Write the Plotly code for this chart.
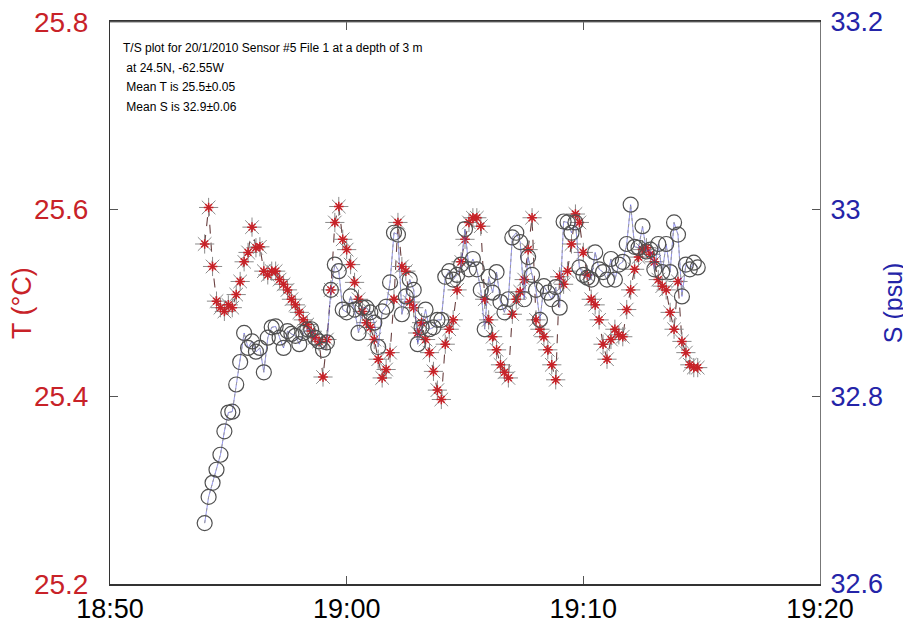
import pandas as pd
import plotly.graph_objects as go

# Sampling: sensor record every 10 s from 18:54:00
start_time = "2010-01-20 18:54:00"

temperature = [
    25.563, 25.602, 25.539, 25.502, 25.495, 25.491, 25.498, 25.495, 25.509, 25.523,
    25.544, 25.554, 25.581, 25.559, 25.560, 25.534, 25.530, 25.534, 25.534, 25.525,
    25.520, 25.514, 25.504, 25.498, 25.490, 25.482, 25.477, 25.470, 25.463, 25.459,
    25.421, 25.461, 25.514, 25.586, 25.603, 25.568, 25.557, 25.541, 25.522, 25.504,
    25.491, 25.479, 25.474, 25.461, 25.440, 25.420, 25.429, 25.447, 25.504, 25.586,
    25.539, 25.534, 25.501, 25.495, 25.468, 25.479, 25.461, 25.447, 25.427, 25.407,
    25.397, 25.456, 25.472, 25.482, 25.514, 25.544, 25.568, 25.586, 25.591, 25.591,
    25.582, 25.504, 25.482, 25.464, 25.450, 25.434, 25.426, 25.420, 25.488, 25.504,
    25.512, 25.525, 25.557, 25.591, 25.482, 25.472, 25.464, 25.450, 25.434, 25.418,
    25.528, 25.520, 25.534, 25.563, 25.595, 25.586, 25.554, 25.530, 25.504, 25.498,
    25.482, 25.456, 25.440, 25.461, 25.472, 25.466, 25.464, 25.493, 25.514, 25.536,
    25.549, 25.557, 25.559, 25.552, 25.544, 25.525, 25.518, 25.514, 25.490, 25.472,
    25.523, 25.459, 25.447, 25.434, 25.431, 25.431,
]

salinity = [
    32.665, 32.693, 32.708, 32.722, 32.738, 32.763, 32.783, 32.784, 32.813, 32.837,
    32.868, 32.852, 32.859, 32.848, 32.852, 32.826, 32.863, 32.874, 32.875, 32.863,
    32.852, 32.870, 32.867, 32.865, 32.856, 32.868, 32.872, 32.872, 32.863, 32.859,
    32.850, 32.858, 32.914, 32.941, 32.934, 32.893, 32.890, 32.907, 32.893, 32.868,
    32.895, 32.895, 32.890, 32.879, 32.853, 32.891, 32.896, 32.922, 32.975, 32.973,
    32.888, 32.907, 32.925, 32.914, 32.856, 32.874, 32.893, 32.872, 32.874, 32.882,
    32.882, 32.928, 32.934, 32.925, 32.930, 32.941, 32.979, 32.936, 32.947, 32.936,
    32.914, 32.872, 32.928, 32.911, 32.933, 32.901, 32.890, 32.904, 32.970, 32.975,
    32.965, 32.904, 32.949, 32.930, 32.914, 32.882, 32.918, 32.911, 32.904, 32.917,
    32.895, 32.987, 32.986, 32.975, 32.986, 32.938, 32.930, 32.927, 32.925, 32.954,
    32.936, 32.933, 32.925, 32.947, 32.925, 32.941, 32.944, 32.963, 33.005, 32.960,
    32.959, 32.982, 32.955, 32.957, 32.936, 32.963, 32.933, 32.963, 32.933, 32.986,
    32.973, 32.907, 32.941, 32.936, 32.943, 32.938,
]

x_tick_labels = ["18:50", "19:00", "19:10", "19:20"]
t_tick_labels = ["25.2", "25.4", "25.6", "25.8"]
s_tick_labels = ["32.6", "32.8", "33", "33.2"]

info_lines = [
    "T/S plot for 20/1/2010 Sensor #5 File 1 at a depth of 3 m",
    " at 24.5N, -62.55W",
    " Mean T is 25.5±0.05",
    " Mean S is 32.9±0.06",
]

times = pd.date_range(start_time, periods=len(temperature), freq="10s")
day = "2010-01-20 "
x_tick_vals = [day + t for t in x_tick_labels]
t_tick_vals = [float(v) for v in t_tick_labels]
s_tick_vals = [float(v) for v in s_tick_labels]

RED = "#c82228"
BLUE = "#2424a8"
FONT = "Arial, Liberation Sans, sans-serif"

fig = go.Figure()

# Salinity (right axis)
fig.add_trace(go.Scatter(
    x=times, y=salinity, yaxis="y2", mode="lines",
    line=dict(color="rgba(40,40,220,0.5)", width=1),
    hoverinfo="skip", showlegend=False))
fig.add_trace(go.Scatter(
    x=times, y=salinity, yaxis="y2", mode="lines+markers",
    line=dict(color="#9a9a9a", width=1, dash="dot"),
    marker=dict(symbol="circle-open", size=15, color="#505050",
                line=dict(width=1.2, color="#505050")),
    showlegend=False))

# Temperature (left axis)
fig.add_trace(go.Scatter(
    x=times, y=temperature, mode="lines+markers",
    line=dict(color="#6a4040", width=1.1, dash="dash"),
    marker=dict(symbol="asterisk-open", size=16, color="#8a8a8a",
                line=dict(width=1, color="#8a8a8a")),
    showlegend=False))
fig.add_trace(go.Scatter(
    x=times, y=temperature, mode="markers",
    marker=dict(symbol="asterisk-open", size=8, color=RED,
                line=dict(width=1.5, color=RED)),
    hoverinfo="skip", showlegend=False))

# The page adds an 8 px body margin, so the figure is sized/offset to compensate
fig.update_layout(
    width=903, height=618,
    margin=dict(l=102, r=91, t=14, b=42, autoexpand=False),
    paper_bgcolor="white", plot_bgcolor="white",
    font=dict(family=FONT),
    xaxis=dict(
        type="date", automargin=False,
        range=[x_tick_vals[0], x_tick_vals[-1]],
        tickvals=x_tick_vals, ticktext=x_tick_labels,
        ticks="inside", ticklen=8, tickcolor="#555",
        showline=True, linecolor="#333", linewidth=1.5, mirror="ticks",
        showgrid=False, zeroline=False, ticklabeloverflow="allow",
        tickfont=dict(size=27, color="black"),
    ),
    yaxis=dict(
        automargin=False,
        range=[t_tick_vals[0], t_tick_vals[-1]],
        tickvals=t_tick_vals, ticktext=t_tick_labels,
        ticks="inside", ticklen=8, tickcolor="#555",
        showline=True, linecolor="#333", linewidth=1, mirror=True,
        showgrid=False, zeroline=False, ticklabeloverflow="allow",
        tickfont=dict(size=28, color=RED),
        ticklabelstandoff=15,
    ),
    yaxis2=dict(
        overlaying="y", side="right", automargin=False,
        range=[s_tick_vals[0], s_tick_vals[-1]],
        tickvals=s_tick_vals, ticktext=s_tick_labels,
        ticks="inside", ticklen=8, tickcolor="#555",
        showline=True, linecolor="#777", linewidth=1,
        showgrid=False, zeroline=False, ticklabeloverflow="allow",
        tickfont=dict(size=27, color=BLUE),
        ticklabelstandoff=4,
    ),
)

# Plot frame (top edge)
fig.add_shape(type="line", xref="paper", yref="paper", x0=0, x1=1, y0=1, y1=1,
              line=dict(color="#777", width=1))

# Axis titles
fig.add_annotation(text="T (°C)", xref="paper", yref="paper", x=-0.124, y=0.5,
                   xanchor="center", yanchor="middle",
                   textangle=-90, showarrow=False, font=dict(size=27, color=RED))
fig.add_annotation(text="S (psu)", xref="paper", yref="paper", x=1.103, y=0.5,
                   xanchor="center", yanchor="middle",
                   textangle=-90, showarrow=False, font=dict(size=25, color=BLUE))

# Info text block
for i, line in enumerate(info_lines):
    fig.add_annotation(text=line.replace(" ", "&nbsp;", 1) if line.startswith(" ") else line,
                       xref="paper", yref="paper", x=0.015, y=1 - (26 + i * 19.5) / 562,
                       xanchor="left", yanchor="middle", showarrow=False,
                       font=dict(size=12, color="black"))

fig.write_html("out.html")
